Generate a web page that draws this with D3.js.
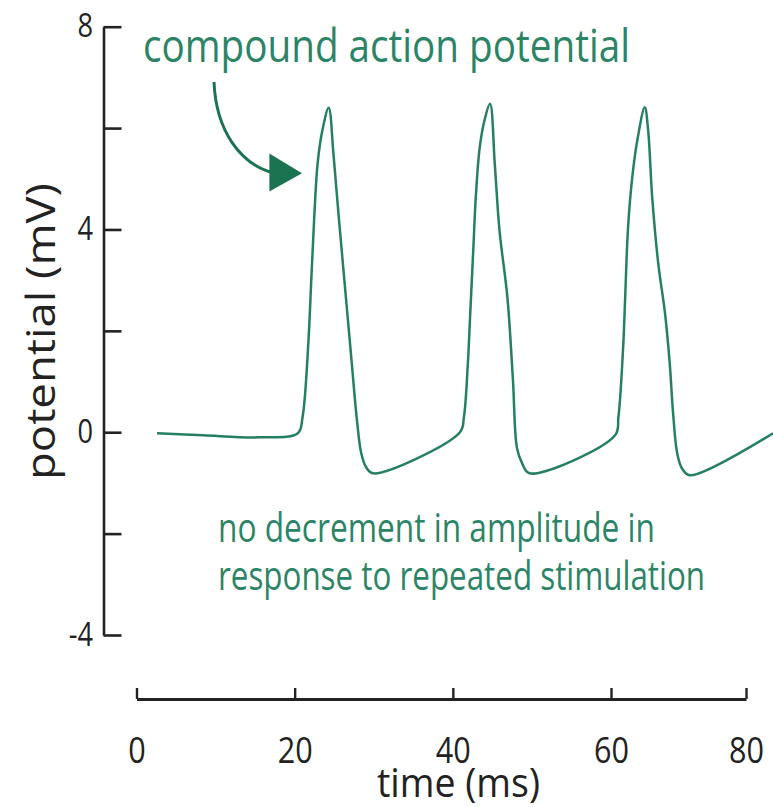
<!DOCTYPE html>
<html>
<head>
<meta charset="utf-8">
<script src="https://cdn.jsdelivr.net/npm/d3@7"></script>
<style>
  html, body { margin: 0; padding: 0; background: #fff; }
  svg { display: block; font-family: "Open Sans", "Noto Sans", sans-serif; }
</style>
</head>
<body>
<div id="chart"></div>
<script>
// time (ms) and potential (mV)
var timeMs = [2.6, 8.4, 15.6, 20.4,
  21.0, 21.7, 22.1, 22.5, 22.9, 23.5, 24.3,
  24.9, 25.6, 26.4, 27.2, 27.9, 28.4, 29.0, 29.9,
  40.9,
  41.4, 41.9, 42.2, 42.6, 42.9, 43.4, 44.0, 44.7,
  45.3, 45.9, 46.9, 47.6, 48.1, 48.7, 49.7,
  60.6,
  61.1, 61.8, 62.1, 62.5, 63.1, 63.9, 65.0,
  65.5, 66.1, 67.0, 68.0, 68.7, 69.2, 69.8, 70.5, 71.7,
  84.0];
var potentialMv = [-0.02, -0.06, -0.1, -0.02,
  0.3, 1.68, 3.0, 4.32, 5.3, 5.95, 6.4,
  5.5, 4.2, 2.8, 1.4, 0.2, -0.4, -0.68, -0.81,
  0.0,
  0.3, 1.36, 2.34, 3.65, 4.63, 5.62, 6.15, 6.48,
  5.3, 3.98, 2.66, 1.03, -0.3, -0.59, -0.81,
  -0.06,
  0.3, 1.68, 2.66, 3.98, 4.97, 5.76, 6.41,
  5.96, 4.64, 3.33, 2.35, 1.36, 0.37, -0.41, -0.71, -0.85,
  -0.02];

var xTicks = [0, 20, 40, 60, 80];
var yTicks = [-4, -2, 0, 2, 4, 6, 8];
var yLabelTicks = [-4, 0, 4, 8];

// curved arrow pointing at first spike, in data units [t, mV]
var arrowPath = [[9.8, 6.91], [10.05, 5.96], [13.09, 5.27], [17.51, 5.11]];
var arrowHead = [[20.93, 5.11], [16.8, 5.5], [16.8, 4.75]];

var width = 773, height = 807;
var green = "#25805f", textGreen = "#2c8466", axisColor = "#222";

var svg = d3.select("#chart").append("svg")
  .attr("width", width)
  .attr("height", height);

// the drawn axis is not quite even after 60 ms, follow the picture
var x = d3.scaleLinear().domain([0, 60, 80]).range([136.5, 611, 746]);
var y = d3.scaleLinear().domain([-4, 8]).range([635, 26.7]);

function squeeze(sel, w) {
  sel.attr("textLength", w).attr("lengthAdjust", "spacingAndGlyphs");
}
function squeezeBy(sel, k) {
  sel.each(function() {
    var w = this.getComputedTextLength();
    d3.select(this).attr("textLength", w * k).attr("lengthAdjust", "spacingAndGlyphs");
  });
}

// y axis
var yAxis = svg.append("g")
  .attr("transform", "translate(103.5,0)")
  .call(d3.axisLeft(y)
    .tickValues(yTicks)
    .tickSize(-18)
    .tickSizeOuter(0)
    .tickPadding(10.5)
    .tickFormat(function(d) { return yLabelTicks.indexOf(d) >= 0 ? d : ""; }));
yAxis.select(".domain").attr("stroke", axisColor).attr("stroke-width", 2.6);
yAxis.selectAll(".tick line").attr("stroke", axisColor).attr("stroke-width", 2.6);
yAxis.selectAll(".tick text")
  .attr("fill", "#222")
  .style("font-family", "'Open Sans', sans-serif")
  .style("font-size", "32px")
  .text(function(d) { return yLabelTicks.indexOf(d) >= 0 ? String(d) : ""; });
squeezeBy(yAxis.selectAll(".tick text").filter(function(d) { return yLabelTicks.indexOf(d) >= 0; }), 0.85);

// x axis
var xAxis = svg.append("g")
  .attr("transform", "translate(0,699)")
  .call(d3.axisBottom(x)
    .tickValues(xTicks)
    .tickSize(-11)
    .tickSizeOuter(0)
    .tickPadding(38.4)
    .tickFormat(d3.format("d")));
xAxis.select(".domain").attr("stroke", axisColor).attr("stroke-width", 2.8);
xAxis.selectAll(".tick line").attr("stroke", axisColor).attr("stroke-width", 2.4);
xAxis.selectAll(".tick text")
  .attr("fill", "#222")
  .style("font-family", "'Open Sans', sans-serif")
  .style("font-size", "36px");
squeezeBy(xAxis.selectAll(".tick text"), 0.85);

// axis titles
svg.append("text")
  .attr("transform", "translate(55,331.5) rotate(-90)")
  .attr("text-anchor", "middle")
  .attr("fill", "#222")
  .style("font-size", "41px")
  .text("potential (mV)")
  .call(squeeze, 297);

svg.append("text")
  .attr("x", 458.5)
  .attr("y", 797)
  .attr("text-anchor", "middle")
  .attr("fill", "#222")
  .style("font-size", "41px")
  .text("time (ms)")
  .call(squeeze, 163);

// trace
var line = d3.line()
  .x(function(d) { return x(d[0]); })
  .y(function(d) { return y(d[1]); })
  .curve(d3.curveCatmullRom.alpha(0.5));

svg.append("path")
  .datum(d3.zip(timeMs, potentialMv))
  .attr("fill", "none")
  .attr("stroke", green)
  .attr("stroke-width", 2.5)
  .attr("stroke-linejoin", "round")
  .attr("d", line);

// annotations
svg.append("text")
  .attr("x", 143)
  .attr("y", 62)
  .attr("fill", textGreen)
  .style("font-size", "46px")
  .text("compound action potential")
  .call(squeeze, 487);

var p = arrowPath.map(function(d) { return [x(d[0]), y(d[1])]; });
svg.append("path")
  .attr("fill", "none")
  .attr("stroke", "#1b7352")
  .attr("stroke-width", 3)
  .attr("d", "M" + p[0] + "C" + p[1] + " " + p[2] + " " + p[3]);

svg.append("path")
  .attr("fill", "#1b7352")
  .attr("d", "M" + arrowHead.map(function(d) { return [x(d[0]), y(d[1])]; }).join("L") + "Z");

var note = [["no decrement in amplitude in", 542, 437],
            ["response to repeated stimulation", 590, 487]];
svg.selectAll(".note")
  .data(note)
  .enter().append("text")
  .attr("class", "note")
  .attr("x", 218)
  .attr("y", function(d) { return d[1]; })
  .attr("fill", textGreen)
  .style("font-size", "40px")
  .text(function(d) { return d[0]; })
  .each(function(d) { squeeze(d3.select(this), d[2]); });
</script>
</body>
</html>
